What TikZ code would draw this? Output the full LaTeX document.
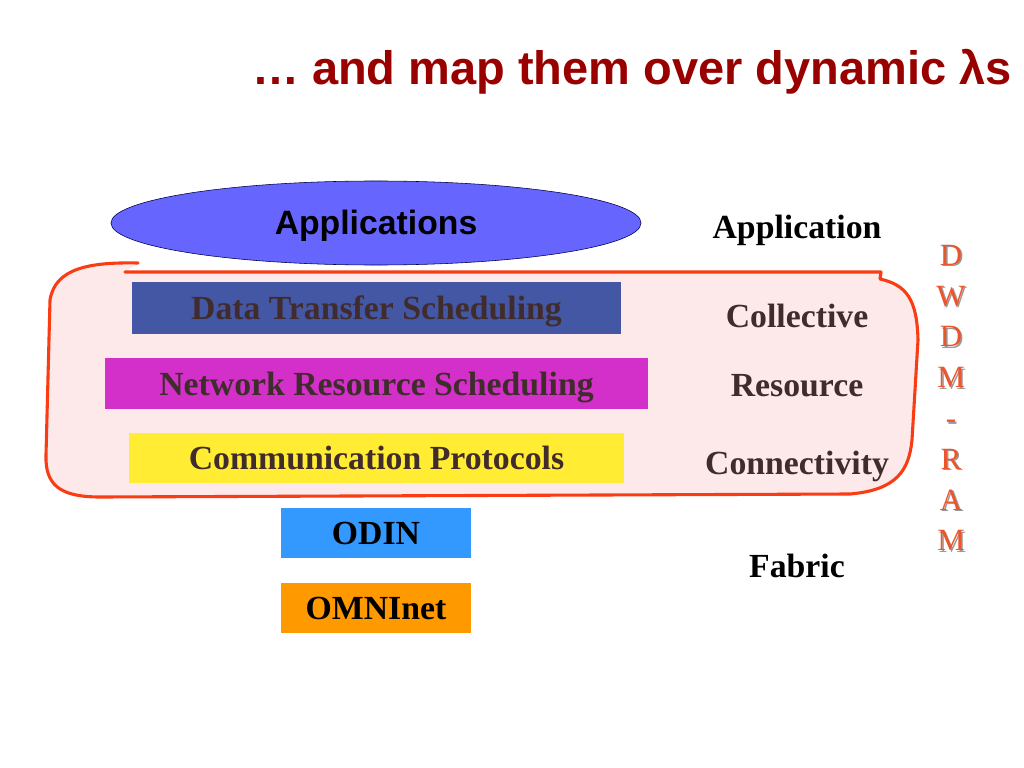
\documentclass[tikz,border=0pt]{standalone}
\usepackage{fontspec}
\setmainfont{Liberation Serif}
\newfontfamily\arialfont{Liberation Sans}
\usetikzlibrary{shapes.geometric, positioning}

\definecolor{titlered}{RGB}{153,0,0}
\definecolor{labelbrown}{RGB}{64,44,44}
\definecolor{ramred}{RGB}{238,84,44}
\definecolor{groupline}{RGB}{250,60,20}
\definecolor{grouppink}{RGB}{253,233,234}
\definecolor{appblue}{RGB}{102,102,255}
\definecolor{dtsblue}{RGB}{68,87,165}
\definecolor{nrsmagenta}{RGB}{210,48,200}
\definecolor{cpyellow}{RGB}{255,236,51}
\definecolor{odinblue}{RGB}{51,153,255}
\definecolor{omniorange}{RGB}{255,153,0}

\begin{document}
\begin{tikzpicture}[x=0.025cm, y=-0.025cm,
  layer/.style={inner sep=0pt, text height=16.5pt, text depth=0pt, font=\fontsize{24}{28}\selectfont\bfseries, text=labelbrown},
  side/.style={font=\fontsize{24}{28}\selectfont\bfseries, text=labelbrown}]
\useasboundingbox (0,0) rectangle (1024,768);

% title
\node[anchor=east, inner sep=0pt, text=titlered, font=\arialfont\bfseries\fontsize{33.4}{38}\selectfont] (title) at (1012,72) {… and map them over dynamic λs};

% DWDM-RAM group
\path[fill=grouppink, draw=groupline, line width=2.2pt, line cap=round, line join=round]
  (138,263) .. controls (90,262) and (55,268) .. (50,300) -- (46,455)
  .. controls (45,485) and (60,497) .. (100,497) -- (850,494)
  .. controls (897,490) and (909,470) .. (912,440) -- (918,340)
  .. controls (917,300) and (907,285) .. (880,279) -- (881,272) -- (125,272);

\node[ellipse, draw=black!70!blue, fill=appblue, minimum width=13.25cm, minimum height=2.1cm, text height=17pt, text depth=0pt, font=\arialfont\bfseries\fontsize{24}{28}\selectfont] (apps) at (376,223) {Applications};

\node[layer, fill=dtsblue, minimum width=12.225cm, minimum height=1.3cm] (dts) at (376.5,308) {Data Transfer Scheduling};
\node[layer, fill=nrsmagenta, minimum width=13.575cm, minimum height=1.275cm] (nrs) at (376.5,383.5) {Network Resource Scheduling};
\node[layer, fill=cpyellow, minimum width=12.375cm, minimum height=1.25cm] (cp) at (376.5,458) {Communication Protocols};
\node[layer, fill=odinblue, text=black, minimum width=4.75cm, minimum height=1.25cm] (odin) at (376,533) {ODIN};
\node[layer, fill=omniorange, text=black, minimum width=4.75cm, minimum height=1.25cm] (omni) at (376,608) {OMNInet};

% grid layers
\node[side, text=black] (application) at (797,230) {Application};
\node[side] (collective) at (797,316) {Collective};
\node[side] (resource) at (797,386) {Resource};
\node[side] (connectivity) at (797,466) {Connectivity};
\node[side, text=black] (fabric) at (797,566) {Fabric};

% vertical name
\node[align=center, text=black!40, font=\fontsize{22}{29}\selectfont] (ramshadow) at (952.5,399.5) {D\\W\\D\\M\\-\\R\\A\\M};
\node[align=center, text=ramred, font=\fontsize{22}{29}\selectfont] (ram) at (951,398) {D\\W\\D\\M\\-\\R\\A\\M};
\end{tikzpicture}
\end{document}
